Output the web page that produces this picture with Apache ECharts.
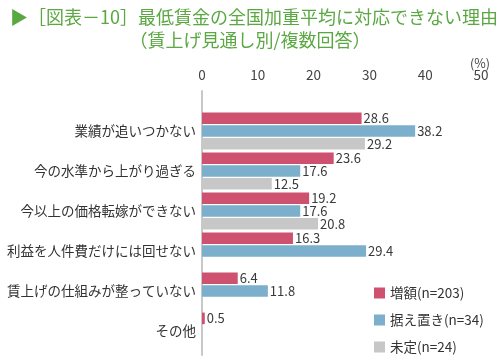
<!DOCTYPE html>
<html><head><meta charset="utf-8">
<script src="https://cdn.jsdelivr.net/npm/echarts@6/dist/echarts.min.js"></script>
<style>html,body{margin:0;padding:0;background:#fff}#c{width:500px;height:360px}</style>
</head><body><div id="c"></div>
<script>
var categories = ['業績が追いつかない','今の水準から上がり過ぎる','今以上の価格転嫁ができない','利益を人件費だけには回せない','賃上げの仕組みが整っていない','その他'];
var seriesNames = ['増額(n=203)','据え置き(n=34)','未定(n=24)'];
var increase = [28.6, 23.6, 19.2, 16.3, 6.4, 0.5];
var hold = [38.2, 17.6, 17.6, 29.4, 11.8, '-'];
var undecided = [29.2, 12.5, 20.8, '-', '-', '-'];
var xTicks = [0, 10, 20, 30, 40, 50];
var colors = ['#cf5170', '#7cafcb', '#c7c7c7'];
var font = '"Noto Sans CJK JP", "Noto Sans", sans-serif';

var chart = echarts.init(document.getElementById('c'));
function mk(name, data, color) {
  return {
    name: name, type: 'bar', data: data, barWidth: 11.5, barGap: '10%',
    xAxisIndex: 0, yAxisIndex: 0,
    itemStyle: { color: color },
    label: { show: true, position: 'right', distance: 2, color: '#3a3a3a', fontSize: 13, fontFamily: font,
      formatter: function (p) { return p.value.toFixed(1); } }
  };
}
chart.setOption({
  animation: false,
  textStyle: { fontFamily: font },
  title: [
    { text: '▶［図表－10］最低賃金の全国加重平均に対応できない理由', left: 5, top: 3,
      textStyle: { color: '#5aa842', fontSize: 18, fontWeight: 'normal', fontFamily: font } },
    { text: '（賃上げ見通し別/複数回答）', left: 'center', top: 26,
      textStyle: { color: '#5aa842', fontSize: 18, fontWeight: 'normal', fontFamily: font } },
    { text: '(%)', right: 5, top: 52, textStyle: { color: '#444', fontSize: 12.5, fontWeight: 'normal', fontFamily: font } }
  ],
  legend: {
    orient: 'vertical', left: 374, top: 284, height: 76, padding: 0, itemGap: 9, itemWidth: 11, itemHeight: 11,
    icon: 'rect', textStyle: { color: '#333', fontSize: 13.5, lineHeight: 18, fontFamily: font },
    data: seriesNames
  },
  grid: [
    { left: 202, right: 19, top: 111, height: 240 },
    { left: 202, right: 19, top: 91, height: 264 }
  ],
  xAxis: [
    { type: 'value', gridIndex: 0, position: 'top', min: xTicks[0], max: xTicks[xTicks.length - 1], interval: 10,
      axisLine: { show: false }, axisTick: { show: false }, splitLine: { show: false },
      axisLabel: { color: '#444', fontSize: 13.5, margin: 29, fontFamily: font } },
    { type: 'value', gridIndex: 1, min: 0, max: 50, show: false }
  ],
  yAxis: [
    { type: 'category', gridIndex: 0, data: categories, inverse: true,
      axisLine: { show: false }, axisTick: { show: false },
      axisLabel: { color: '#333', fontSize: 13.5, margin: 6, fontFamily: font } },
    { type: 'category', gridIndex: 1, data: [''],
      axisLine: { show: true, lineStyle: { color: '#c8c8c8', width: 2 } }, axisTick: { show: false }, axisLabel: { show: false } }
  ],
  series: [mk(seriesNames[0], increase, colors[0]), mk(seriesNames[1], hold, colors[1]), mk(seriesNames[2], undecided, colors[2])]
});
</script></body></html>
